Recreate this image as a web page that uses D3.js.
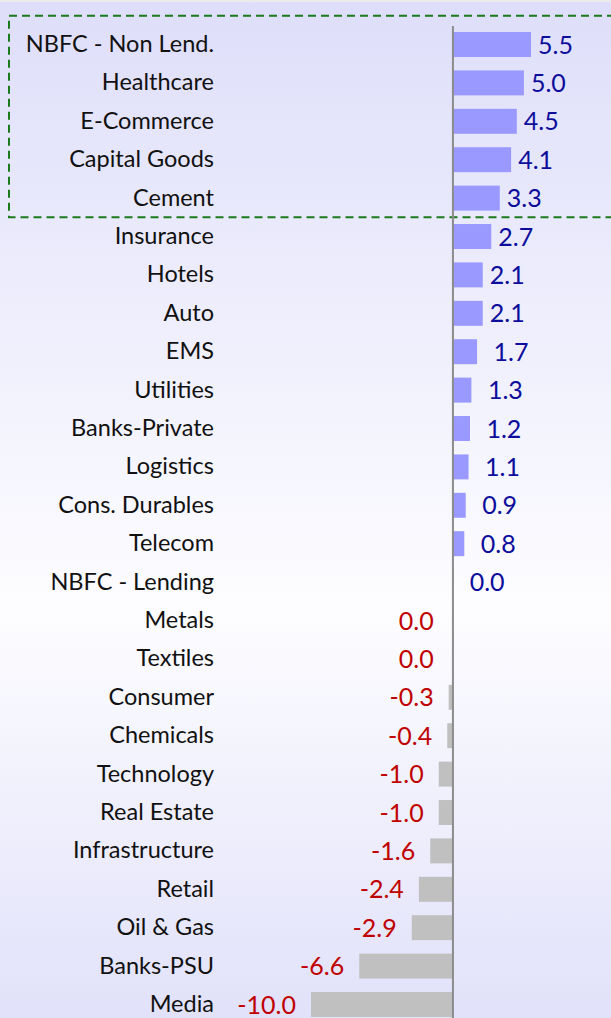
<!DOCTYPE html>
<html>
<head>
<meta charset="utf-8">
<script src="https://cdn.jsdelivr.net/npm/d3@7"></script>
<style>
  html, body { margin: 0; padding: 0; background: #fff; }
  svg { display: block; }
</style>
</head>
<body>
<div id="chart"></div>
<script>
// sectors, top to bottom
var sectors = ["NBFC - Non Lend.", "Healthcare", "E-Commerce", "Capital Goods", "Cement",
  "Insurance", "Hotels", "Auto", "EMS", "Utilities", "Banks-Private", "Logistics",
  "Cons. Durables", "Telecom", "NBFC - Lending", "Metals", "Textiles", "Consumer",
  "Chemicals", "Technology", "Real Estate", "Infrastructure", "Retail", "Oil & Gas",
  "Banks-PSU", "Media"];

// change values (tiny signs kept so 0.0 rows fall on the right side)
var changes = [5.5, 5.0, 4.5, 4.1, 3.3,
  2.7, 2.1, 2.1, 1.7, 1.3, 1.2, 1.1,
  0.9, 0.8, 0.02, -0.02, -0.02, -0.3,
  -0.4, -1.0, -1.0, -1.6, -2.4, -2.9,
  -6.6, -10.0];

// first rows boxed as the top group
var highlighted = ["NBFC - Non Lend.", "Healthcare", "E-Commerce", "Capital Goods", "Cement"];

const chartWidth = 611;
const chartHeight = 1018;

var dataset = sectors.map(function(s, i) { return { name: s, value: changes[i] }; });

var svg = d3.select("#chart")
  .append("svg")
  .attr("width", chartWidth)
  .attr("height", chartHeight)
  .style("font-family", "Lato, 'Open Sans', sans-serif");

// background: lavender at top and bottom, near white in the middle
var grad = svg.append("defs").append("linearGradient")
  .attr("id", "bg")
  .attr("x1", 0).attr("y1", 0).attr("x2", 0).attr("y2", 1);
grad.append("stop").attr("offset", "0").attr("stop-color", "#dedefa");
grad.append("stop").attr("offset", "0.6").attr("stop-color", "#fdfdff");
grad.append("stop").attr("offset", "1").attr("stop-color", "#e1e1fa");

svg.append("rect")
  .attr("width", chartWidth)
  .attr("height", chartHeight)
  .attr("fill", "url(#bg)");

svg.append("rect")
  .attr("width", chartWidth)
  .attr("height", 2)
  .attr("fill", "#ebebeb");

var xScale = d3.scaleLinear()
  .domain([-10, 5.5])
  .range([311, 531]);

var yScale = d3.scaleBand()
  .domain(sectors)
  .range([25.3, 25.3 + 38.4 * sectors.length])
  .paddingInner(0.35)
  .paddingOuter(0.175);

// highlight box around the top group
var boxTop = yScale(highlighted[0]) - yScale.step() * 0.175 - 9.5;
var boxBottom = yScale(highlighted[highlighted.length - 1]) + yScale.bandwidth() + yScale.step() * 0.175;
svg.append("rect")
  .attr("x", 9)
  .attr("y", boxTop)
  .attr("width", chartWidth)
  .attr("height", boxBottom - boxTop)
  .attr("fill", "none")
  .attr("stroke", "#1b7a1b")
  .attr("stroke-width", 2)
  .attr("stroke-dasharray", "8,5");

svg.selectAll("rect.bar")
  .data(dataset)
  .enter()
  .append("rect")
  .attr("class", "bar")
  .attr("x", function(d) { return xScale(Math.min(0, d.value)); })
  .attr("y", function(d) { return yScale(d.name); })
  .attr("width", function(d) { return Math.abs(xScale(d.value) - xScale(0)); })
  .attr("height", yScale.bandwidth())
  .attr("fill", function(d) { return d.value < 0 ? "#c0c0c0" : "#9999ff"; });

// zero line
svg.append("line")
  .attr("x1", xScale(0)).attr("x2", xScale(0))
  .attr("y1", 26).attr("y2", chartHeight)
  .attr("stroke", "#8c8c8c")
  .attr("stroke-width", 2);

// category labels
var yAxis = d3.axisLeft(yScale).tickSize(0).tickPadding(0);
var yAxisG = svg.append("g")
  .attr("transform", "translate(214,0)")
  .call(yAxis);
yAxisG.select(".domain").remove();
yAxisG.selectAll("text")
  .attr("font-family", "Lato, 'Open Sans', sans-serif")
  .attr("font-size", 23.5)
  .attr("fill", "#111");

function fmt(v) {
  if (Math.abs(v) < 0.05) return "0.0";
  return v.toFixed(1);
}

// value labels
svg.selectAll("text.val")
  .data(dataset)
  .enter()
  .append("text")
  .attr("class", "val")
  .attr("x", function(d) {
    if (d.value < 0) return xScale(Math.min(d.value, -0.3)) - 15;
    return xScale(d.value) + (d.value >= 2 ? 7 : 16.5);
  })
  .attr("y", function(d) { return yScale(d.name) + yScale.bandwidth() / 2; })
  .attr("dy", "0.36em")
  .attr("text-anchor", function(d) { return d.value < 0 ? "end" : "start"; })
  .attr("font-size", 25)
  .attr("fill", function(d) { return d.value < 0 ? "#c00000" : "#0d0d9c"; })
  .text(function(d) { return fmt(d.value); });
</script>
</body>
</html>
